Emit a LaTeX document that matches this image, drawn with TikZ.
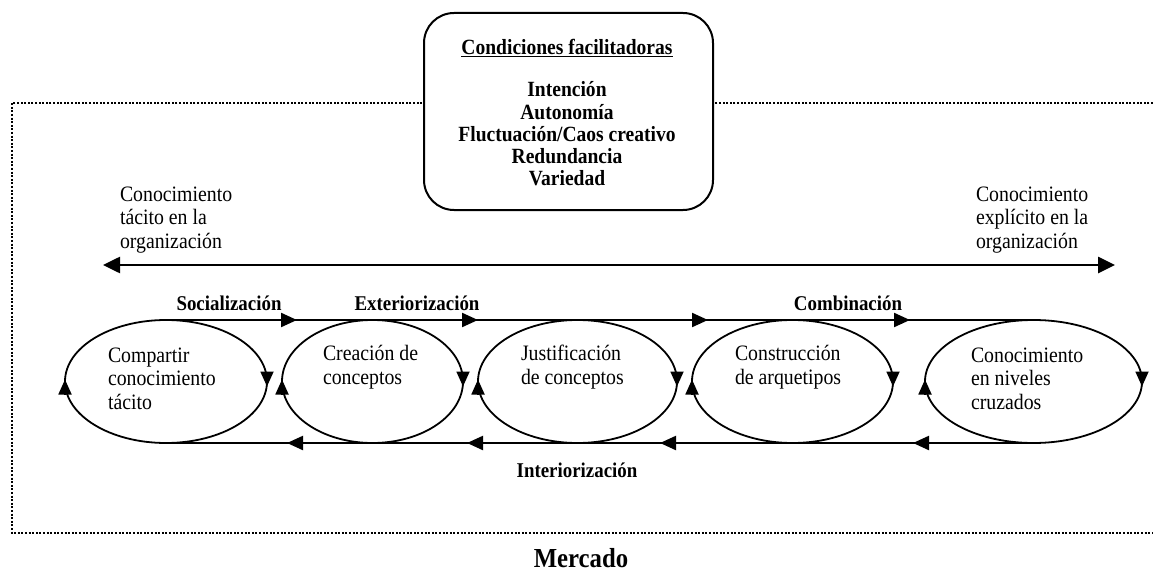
\documentclass[tikz,border=0pt]{standalone}
\usepackage{fontspec}
\setmainfont{Liberation Serif}[FakeStretch=0.9]
\usetikzlibrary{arrows.meta,decorations.markings,shapes.geometric}

\tikzset{flowtip/.tip={Triangle[length=16pt,width=14pt]}}

\begin{document}
\begin{tikzpicture}[x=1pt,y=-1pt,
  every node/.style={inner sep=0pt, outer sep=0pt},
  body/.style={font=\fontsize{22}{23.5}\selectfont, align=left, anchor=west},
  cond/.style={font=\bfseries\fontsize{21.7}{22.2}\selectfont, align=center},
  flowlabel/.style={font=\bfseries\fontsize{21}{23}\selectfont},
  border/.style={line width=2pt, dash pattern=on 2pt off 1.6pt},
  condbox/.style={draw, line width=2pt, rounded corners=30pt, fill=white},
  cyc/.style={draw, ellipse, line width=1.8pt, minimum height=123},
  tip/.style={line width=1.8pt, -{Triangle[length=15pt,width=13pt]}},
  axis/.style={line width=2.6pt, {Triangle[length=17pt,width=16pt]}-{Triangle[length=17pt,width=16pt]}},
  flow/.style={line width=2.2pt}
]
\useasboundingbox (0,0) rectangle (1153,572);

% market frame (open on the right)
\coordinate (m1) at (1153,103);
\coordinate (m2) at (12,103);
\coordinate (m3) at (12,533);
\coordinate (m4) at (1153,533);
\draw[border] (m1) -- (m2) -- (m3) -- (m4);

% facilitating conditions
\node[condbox, minimum width=289, minimum height=197] (cf) at (568.5,111.5) {};
\node[cond] (cft) at (567,48) {\underline{Condiciones facilitadoras}};
\node[cond] (cfl) at (567,134) {Intención\\Autonomía\\Fluctuación/Caos creativo\\Redundancia\\Variedad};

% tacit -> explicit axis
\node[body] (tac) at (120,220) {Conocimiento\\tácito en la\\organización};
\node[body] (exp) at (976,220) {Conocimiento\\explícito en la\\organización};
\coordinate (axl) at (103,265);
\coordinate (axr) at (1115,265);
\draw[axis] (axl) -- (axr);

% the five phases
\node[cyc, minimum width=202] (e1) at (166,381.5) {};
\node[cyc, minimum width=181] (e2) at (372.5,381.5) {};
\node[cyc, minimum width=199] (e3) at (577.5,381.5) {};
\node[cyc, minimum width=201] (e4) at (792.5,381.5) {};
\node[cyc, minimum width=217] (e5) at (1033.5,381.5) {};

\foreach \i in {1,...,5} {
  \draw[tip] ([yshift=10pt]e\i.east) -- ([yshift=-5pt]e\i.east);
  \draw[tip] ([yshift=-13pt]e\i.west) -- ([yshift=2pt]e\i.west);
}

\node[body] (t1) at (108,378.5) {Compartir\\conocimiento\\tácito};
\node[body] (t2) at (323,367) {Creación de\\conceptos};
\node[body] (t3) at (521,367) {Justificación\\de conceptos};
\node[body] (t4) at (735,367) {Construcción\\de arquetipos};
\node[body] (t5) at (971,378.5) {Conocimiento\\en niveles\\cruzados};

% conversion flows
\draw[flow, postaction=decorate, decoration={markings,
    mark=at position 131pt with {\arrow{flowtip}},
    mark=at position 312pt with {\arrow{flowtip}},
    mark=at position 542pt with {\arrow{flowtip}},
    mark=at position 744pt with {\arrow{flowtip}}}]
  (e1.north) -- (e5.north);
\draw[flow, postaction=decorate, decoration={markings,
    mark=at position 120.5pt with {\arrow{flowtip}},
    mark=at position 373.5pt with {\arrow{flowtip}},
    mark=at position 566.5pt with {\arrow{flowtip}},
    mark=at position 746.5pt with {\arrow{flowtip}}}]
  (e5.south) -- (e1.south);

\node[flowlabel] (soc) at (229,303) {Socialización};
\node[flowlabel] (ext) at (417,303) {Exteriorización};
\node[flowlabel] (com) at (848,303) {Combinación};
\node[flowlabel] (int) at (577,470) {Interiorización};

\node[font=\bfseries\fontsize{27.5}{29}\selectfont] (mer) at (581,558) {Mercado};
\end{tikzpicture}
\end{document}
